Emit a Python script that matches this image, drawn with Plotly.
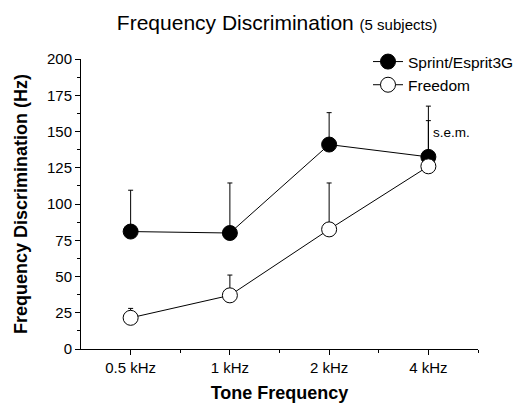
import plotly.graph_objects as go

categories = ["0.5 kHz", "1 kHz", "2 kHz", "4 kHz"]
sprint = [81, 80, 141, 132.5]
sprint_sem = [28.5, 34.5, 22, 35]
freedom = [21.5, 37, 82.5, 126]
freedom_sem = [6.5, 14, 32, 31.5]
yticks = [0, 25, 50, 75, 100, 125, 150, 175, 200]

xs = list(range(len(categories)))
font = "Liberation Sans, Arial, sans-serif"

fig = go.Figure()
fig.add_trace(go.Scatter(
    x=xs, y=sprint, name="Sprint/Esprit3G", mode="lines+markers",
    line=dict(color="black", width=1),
    marker=dict(size=15, color="black", line=dict(color="black", width=1)),
    error_y=dict(type="data", array=sprint_sem, arrayminus=[0]*4, symmetric=False,
                 color="black", thickness=1, width=2.5),
))
fig.add_trace(go.Scatter(
    x=xs, y=freedom, name="Freedom", mode="lines+markers",
    line=dict(color="black", width=1),
    marker=dict(size=15, color="white", line=dict(color="black", width=1)),
    error_y=dict(type="data", array=freedom_sem, arrayminus=[0]*4, symmetric=False,
                 color="black", thickness=1, width=2.5),
))

fig.update_layout(
    width=523, height=403,
    margin=dict(l=81, r=45, t=59, b=54, autoexpand=False),
    plot_bgcolor="white", paper_bgcolor="white",
    font=dict(family=font, size=15, color="black"),
    showlegend=True,
    legend=dict(x=368 / 523, y=1 - 45 / 403, xref="container", yref="container",
                xanchor="left", yanchor="top", bgcolor="rgba(0,0,0,0)",
                font=dict(size=15.5), tracegroupgap=0, itemwidth=30),
    title=dict(text="Frequency Discrimination <span style='font-size:15px'>(5 subjects)</span>",
               x=277 / 523, xanchor="center", y=1 - 23 / 403, yanchor="middle",
               font=dict(size=21, family=font)),
)
fig.update_xaxes(
    range=[-0.5, 3.5], tickmode="array", tickvals=xs, ticktext=categories,
    showline=True, linecolor="black", linewidth=1, showgrid=False, zeroline=False,
    ticks="outside", ticklen=5, tickcolor="black", automargin=False,
    minor=dict(tickvals=[0.5, 1.5, 2.5, 3.5], ticks="outside", ticklen=3, tickcolor="black"),
    title=dict(text="<b>Tone Frequency</b>", font=dict(size=18), standoff=11),
    tickfont=dict(size=15),
)
fig.update_yaxes(
    range=[0, 200], tickmode="array", tickvals=yticks,
    showline=True, linecolor="black", linewidth=1, showgrid=False, zeroline=False,
    ticks="outside", ticklen=5, tickcolor="black", automargin=False,
    minor=dict(dtick=12.5, ticks="outside", ticklen=3, tickcolor="black"),
    title=dict(text="<b>Frequency Discrimination (Hz)</b>", font=dict(size=18), standoff=14),
    tickfont=dict(size=15),
)
fig.add_annotation(x=3, y=149, xref="x", yref="y", text="s.e.m.", showarrow=False,
                   xanchor="left", xshift=3, font=dict(size=13.5))

fig.write_html("out.html")
